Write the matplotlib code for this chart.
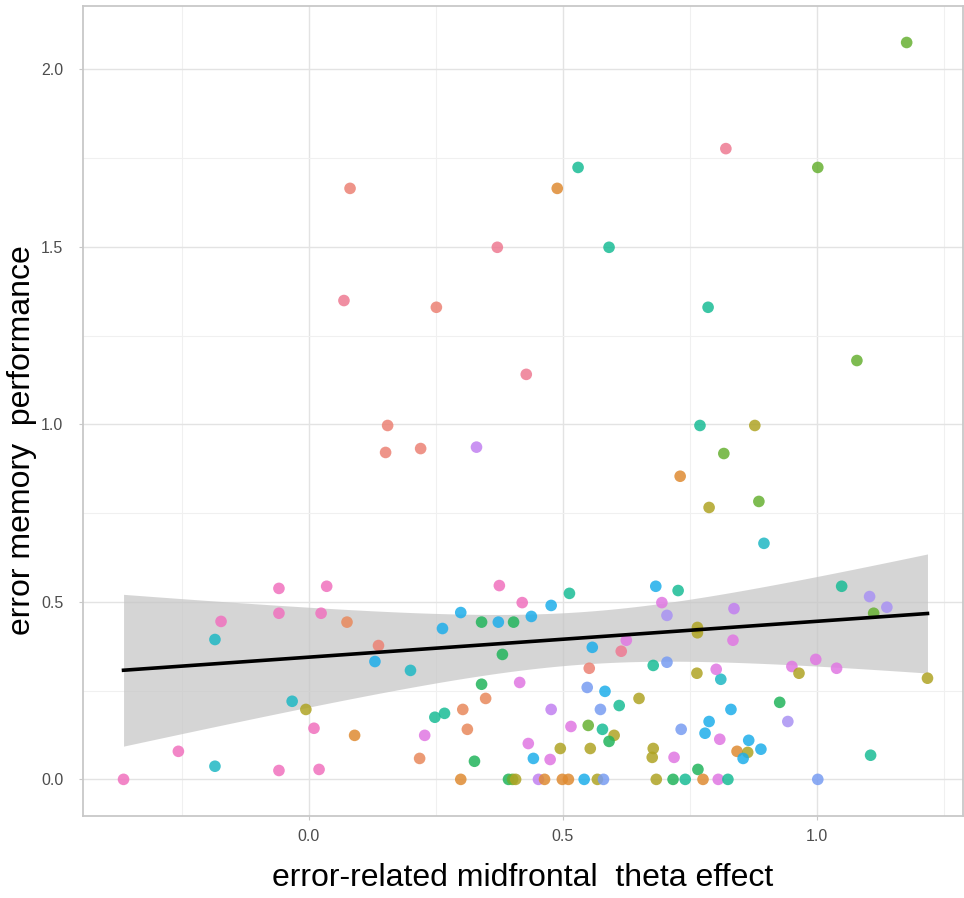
import numpy as np
import matplotlib
matplotlib.use("Agg")
import matplotlib.pyplot as plt
from matplotlib.ticker import MultipleLocator, FormatStrFormatter

plt.rcParams["font.family"] = ["Liberation Sans", "DejaVu Sans"]

# error-related midfrontal theta effect (x) and error memory performance (y), one point per subject x condition
theta = [1.177, 0.530, 0.489, 0.821, 1.002, 0.591, 0.786, 1.079, 0.081, 0.371,
         0.069, 0.251, 0.428, 0.155, 0.151, 0.220, 0.330, 0.770, 0.878, 0.817,
         0.731, 0.788, 0.886, 0.896,
         -0.059, 0.035, -0.059, 0.024, -0.173, -0.185, 0.075, -0.033, -0.006, 0.010,
         -0.257, -0.185, -0.059, 0.020, -0.365, 0.090,
         0.137, 0.130, 0.200, 0.263, 0.299, 0.340, 0.373, 0.403, 0.375, 0.420,
         0.438, 0.381, 0.415, 0.340, 0.348, 0.303, 0.248, 0.267, 0.312, 0.228,
         0.218, 0.326, 0.432, 0.442,
         0.683, 0.727, 0.477, 0.513, 0.695, 0.705, 0.765, 0.765, 0.625, 0.558,
         0.615, 0.552, 0.678, 0.705, 0.764, 0.548, 0.583, 0.650, 0.611, 0.477,
         0.574, 0.516, 0.550, 0.578, 0.601, 0.591, 0.495, 0.554, 0.678, 0.676,
         0.475, 0.719, 0.766, 0.733, 0.788, 0.780, 0.809, 0.831, 0.811, 0.802,
         1.049, 1.104, 1.138, 1.112, 0.837, 0.835, 0.998, 0.951, 0.965, 1.039,
         1.218, 0.927, 0.943, 0.866, 0.890, 0.843, 0.864, 0.855, 1.106,
         0.299, 0.393, 0.401, 0.407, 0.452, 0.464, 0.499, 0.511, 0.542, 0.568,
         0.580, 0.684, 0.717, 0.741, 0.776, 0.806, 0.825, 1.002]
memory = [2.076, 1.724, 1.665, 1.777, 1.724, 1.499, 1.330, 1.180, 1.665, 1.499,
          1.349, 1.330, 1.141, 0.997, 0.921, 0.932, 0.936, 0.997, 0.997, 0.918,
          0.854, 0.766, 0.783, 0.665,
          0.538, 0.544, 0.468, 0.468, 0.445, 0.394, 0.443, 0.220, 0.197, 0.144,
          0.079, 0.037, 0.025, 0.028, 0.000, 0.124,
          0.377, 0.332, 0.307, 0.425, 0.470, 0.443, 0.443, 0.443, 0.546, 0.498,
          0.459, 0.352, 0.273, 0.268, 0.228, 0.197, 0.175, 0.186, 0.141, 0.124,
          0.059, 0.051, 0.101, 0.059,
          0.544, 0.532, 0.490, 0.524, 0.498, 0.462, 0.428, 0.413, 0.392, 0.372,
          0.361, 0.313, 0.321, 0.330, 0.299, 0.259, 0.248, 0.228, 0.208, 0.197,
          0.197, 0.149, 0.152, 0.141, 0.124, 0.107, 0.087, 0.087, 0.087, 0.062,
          0.056, 0.062, 0.028, 0.141, 0.163, 0.130, 0.113, 0.197, 0.282, 0.310,
          0.544, 0.515, 0.485, 0.468, 0.481, 0.392, 0.338, 0.318, 0.299, 0.313,
          0.285, 0.217, 0.163, 0.110, 0.085, 0.079, 0.076, 0.059, 0.068,
          0.0, 0.0, 0.0, 0.0, 0.0, 0.0, 0.0, 0.0, 0.0, 0.0,
          0.0, 0.0, 0.0, 0.0, 0.0, 0.0, 0.0, 0.0]
# subject colour group
group = ["G", "T", "O", "rose", "G", "T", "T", "G", "salmon", "rose",
         "rose", "salmon", "rose", "salmon", "salmon", "salmon", "purple", "T", "Y", "G",
         "O", "Y", "G", "TC",
         "K", "K", "K", "K", "K", "TC", "sorange", "TC", "Y", "K",
         "K", "TC", "K", "K", "K", "O",
         "salmon", "C", "TC", "C", "C", "DG", "C", "DG", "K", "K",
         "C", "DG", "M", "DG", "sorange", "sorange", "T", "T", "sorange", "M",
         "sorange", "DG", "M", "C",
         "C", "T", "C", "T", "M", "lav", "Y", "Y", "M", "C",
         "rose", "salmon", "T", "B", "Y", "B", "C", "Y", "T", "purple",
         "B", "M", "G", "T", "Y", "DG", "Y", "Y", "Y", "Y",
         "M", "M", "DG", "B", "C", "C", "M", "C", "TC", "M",
         "T", "lav", "lav", "G", "purple", "M", "M", "M", "Y", "M",
         "Y", "DG", "lav", "C", "C", "O", "Y", "C", "T",
         "O", "DG", "G", "Y", "purple", "O", "O", "O", "C", "Y",
         "B", "Y", "DG", "T", "O", "M", "T", "B"]

palette = {"salmon": "#EC8274", "rose": "#EE7A92", "O": "#DF8B32", "sorange": "#E8895C",
           "Y": "#AFA424", "G": "#67B133", "DG": "#22B45C", "T": "#1ABC96",
           "TC": "#1FB8C4", "C": "#1EAEEA", "B": "#789CF2", "lav": "#A992F3",
           "purple": "#C180F0", "M": "#E077E2", "K": "#F071BE"}

x = np.array(theta)
y = np.array(memory)

# linear fit with 95% confidence band
slope, intercept = np.polyfit(x, y, 1)
n = len(x)
resid = y - (slope * x + intercept)
s = np.sqrt(np.sum(resid ** 2) / (n - 2))
sxx = np.sum((x - x.mean()) ** 2)
xs = np.linspace(x.min(), x.max(), 100)
fit = slope * xs + intercept
se = s * np.sqrt(1 / n + (xs - x.mean()) ** 2 / sxx)
t95 = 1.977

fig = plt.figure(figsize=(9.64, 8.98), dpi=100)
ax = fig.add_axes([0.086, 0.091, 0.913, 0.902])

ax.scatter(x, y, c=[palette[g] for g in group], s=70, alpha=0.85,
           edgecolors="none", zorder=3)
ax.fill_between(xs, fit - t95 * se, fit + t95 * se, color="#C4C4C4",
                alpha=0.7, lw=0, zorder=2)
ax.plot(xs, fit, color="black", lw=2.6, zorder=4)

ax.set_xlim(-0.445, 1.288)
ax.set_ylim(-0.104, 2.178)
ax.xaxis.set_major_locator(MultipleLocator(0.5))
ax.xaxis.set_minor_locator(MultipleLocator(0.25))
ax.yaxis.set_major_locator(MultipleLocator(0.5))
ax.yaxis.set_minor_locator(MultipleLocator(0.25))
ax.xaxis.set_major_formatter(FormatStrFormatter("%.1f"))
ax.yaxis.set_major_formatter(FormatStrFormatter("%.1f"))

ax.grid(which="major", color="#E3E3E3", lw=1.0, zorder=0)
ax.grid(which="minor", color="#F0F0F0", lw=0.8, zorder=0)
ax.set_axisbelow(True)
for sp in ax.spines.values():
    sp.set_color("#C8C8C8")
    sp.set_linewidth(1.3)
ax.tick_params(which="major", length=3, color="#C8C8C8", labelsize=11.5,
               labelcolor="#4D4D4D")
ax.tick_params(axis="y", pad=11)
ax.tick_params(axis="x", pad=6)
ax.tick_params(which="minor", length=0)

ax.set_xlabel("error-related midfrontal  theta effect", fontsize=23)
ax.set_ylabel("error memory  performance", fontsize=23)
ax.xaxis.set_label_coords(0.5, -0.058)
ax.yaxis.set_label_coords(-0.052, 0.465)

fig.savefig("out.png", dpi=100)
